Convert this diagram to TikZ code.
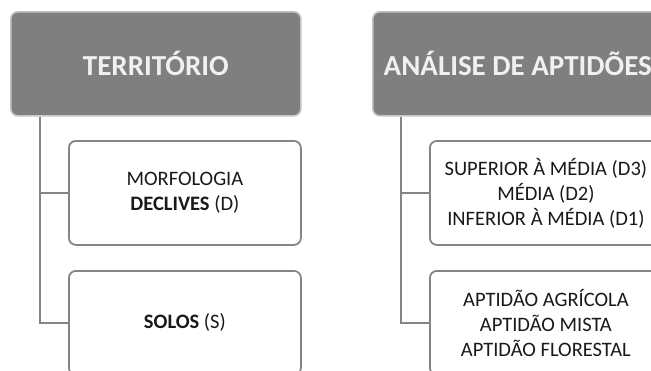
\documentclass[tikz,border=0pt]{standalone}
\usepackage{fontspec}
\setmainfont{Carlito}
\usetikzlibrary{positioning}

\definecolor{hdfill}{HTML}{7F7F7F}
\definecolor{hdline}{HTML}{C4C4C4}
\definecolor{hdtext}{HTML}{F0F0F0}
\definecolor{bxline}{HTML}{858585}

\begin{document}
\begin{tikzpicture}[x=1pt, y=-1pt,
  header/.style={draw=hdline, line width=1.6pt, fill=hdfill, rounded corners=7pt,
    minimum width=290pt, minimum height=104pt, anchor=north west,
    text=hdtext, font=\fontsize{29}{32}\selectfont\bfseries},
  item/.style={draw=bxline, line width=1.8pt, fill=white, rounded corners=7pt,
    minimum width=232pt, minimum height=104pt, anchor=north west, align=center,
    text=black!90, font=\fontsize{20.5}{25}\selectfont},
  link/.style={draw=bxline, line width=1.8pt}]
\newcommand{\Colgap}{362}; % shift of the right column
\newcommand{\Trunk}{30}; % trunk offset from header left

\useasboundingbox (0,0) rectangle (651,370);
\clip (0,0) rectangle (651,370);

% left column
\node[header] (terr) at (10,11) {TERRITÓRIO};
\node[item] (decl) at (68,140) {MORFOLOGIA\\\textbf{DECLIVES} (D)};
\node[item] (solo) at (68,270) {\textbf{SOLOS} (S)};
\coordinate (terrT) at ([xshift=\Trunk pt]terr.south west);

% right column
\node[header] (anal) at (10+\Colgap,11) {ANÁLISE DE APTIDÕES};
\node[item] (clas) at (67+\Colgap,140) {SUPERIOR À MÉDIA (D3)\\MÉDIA (D2)\\INFERIOR À MÉDIA (D1)};
\node[item] (apti) at (67+\Colgap,270) {APTIDÃO AGRÍCOLA\\APTIDÃO MISTA\\APTIDÃO FLORESTAL};
\coordinate (analT) at ([xshift=\Trunk pt - 1pt]anal.south west);

% connectors
\draw[link] (terrT) |- (decl.west);
\draw[link] (terrT) |- (solo.west);
\draw[link] (analT) |- (clas.west);
\draw[link] (analT) |- (apti.west);
\end{tikzpicture}
\end{document}
